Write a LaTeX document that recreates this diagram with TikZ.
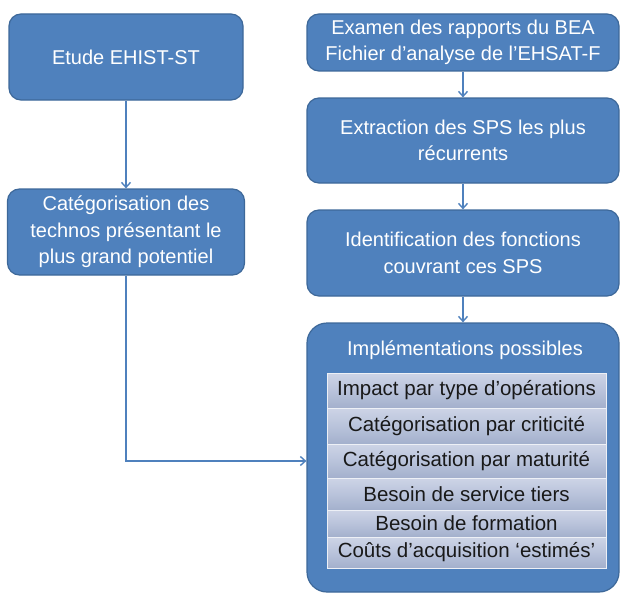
\documentclass[tikz,border=0pt]{standalone}
\usepackage{fontspec}
\setmainfont{Liberation Sans}
\usetikzlibrary{arrows.meta}
\definecolor{boxblue}{HTML}{4F81BD}
\definecolor{boxedge}{HTML}{3D6899}
\definecolor{rowtop}{HTML}{CDD4E6}
\definecolor{rowmid}{HTML}{B9C3DB}
\definecolor{rowbot}{HTML}{A3B0CC}
\tikzset{
	bluebox/.style={draw=boxedge, line width=1.2pt, fill=boxblue, rounded corners=12pt, text=white, align=center, inner sep=0pt, font=\fontsize{20}{26.5}\selectfont},
	listrow/.style={draw=white!75!rowmid, line width=0.8pt, top color=rowtop, bottom color=rowbot, middle color=rowmid, minimum width=279pt, inner sep=0pt, text=black!90, font=\fontsize{20.5}{24}\selectfont},
	link/.style={draw=boxblue, line width=1.4pt, -{Straight Barb[length=5pt,width=9pt]}}
}

\begin{document}
\begin{tikzpicture}[x=1pt, y=-1pt]
	%%%%% START %%%%%
	\useasboundingbox (0, 0) rectangle (621, 594);
	
	% left column
	\node[bluebox, minimum width=234pt, minimum height=86pt] (etude) at (126, 57) {Etude EHIST-ST};
	\node[bluebox, minimum width=237pt, minimum height=86pt] (categ) at (126, 232) {Catégorisation des\\technos présentant le\\plus grand potentiel};
	
	% right column
	\node[bluebox, minimum width=312pt, minimum height=57pt] (examen) at (463, 42.5) {Examen des rapports du BEA\\Fichier d’analyse de l’EHSAT-F};
	\node[bluebox, minimum width=312pt, minimum height=85pt] (extraction) at (463, 140.5) {Extraction des SPS les plus\\récurrents};
	\node[bluebox, minimum width=312pt, minimum height=86pt] (ident) at (463, 253) {Identification des fonctions\\couvrant ces SPS};
	\node[bluebox, rounded corners=20pt, minimum width=312pt, minimum height=269pt] (impl) at (463, 457.5) {};
	\node[text=white, font=\fontsize{20}{24}\selectfont] (impltitle) at (465, 350) {Implémentations possibles};
	
	% list inside
	\node[listrow, minimum height=35pt] (row1) at (466.5, 390.5) {Impact par type d’opérations};
	\node[listrow, minimum height=36pt] (row2) at (466.5, 426) {Catégorisation par criticité};
	\node[listrow, minimum height=34pt] (row3) at (466.5, 461) {Catégorisation par maturité};
	\node[listrow, minimum height=32pt] (row4) at (466.5, 494) {Besoin de service tiers};
	\node[listrow, minimum height=27pt] (row5) at (466.5, 523.5) {Besoin de formation};
	\node[listrow, minimum height=31pt] (row6) at (466.5, 552.5) {Coûts d’acquisition ‘estimés’};
	
	% arrows
	\draw[link] (etude) -- (categ);
	\draw[link] (examen) -- (extraction);
	\draw[link] (extraction) -- (ident);
	\draw[link] (ident) -- (impl);
	\draw[link] (categ.south) |- ([yshift=-3.5pt]impl.west);
	%%%%% END %%%%%
\end{tikzpicture}
\end{document}
